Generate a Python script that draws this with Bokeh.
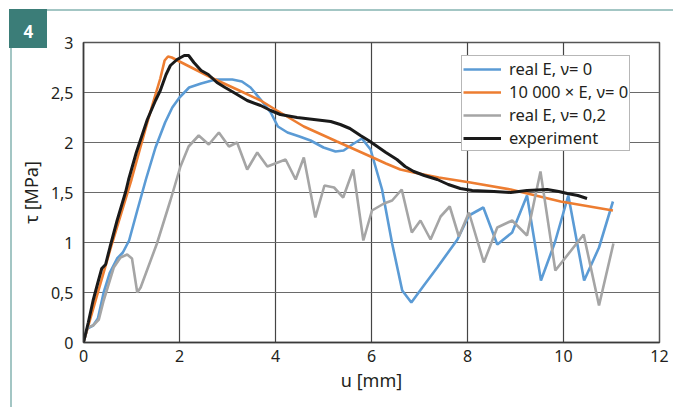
from bokeh.plotting import figure
from bokeh.models import Legend, LegendItem, FixedTicker, Range1d, Title
from bokeh.embed import file_html
from bokeh.resources import INLINE

# ---- data ----
blue_u = [0, 0.08, 0.2, 0.3, 0.42, 0.55, 0.7, 0.82, 0.95, 1.12, 1.3, 1.5, 1.7, 1.85, 2.0, 2.2,
          2.45, 2.75, 3.1, 3.3, 3.48, 3.69, 3.9, 4.05, 4.25, 4.5, 4.73, 5.0, 5.25, 5.42, 5.6,
          5.8, 5.98, 6.22, 6.43, 6.64, 6.83, 7.09, 7.37, 7.79, 8.03, 8.33, 8.62, 8.93, 9.24,
          9.53, 9.82, 10.1, 10.43, 10.74, 11.03]
blue_tau = [0, 0.14, 0.17, 0.24, 0.5, 0.7, 0.84, 0.9, 1.02, 1.32, 1.63, 1.95, 2.2, 2.35, 2.45, 2.55,
            2.59, 2.63, 2.63, 2.61, 2.55, 2.43, 2.3, 2.16, 2.1, 2.06, 2.02, 1.95, 1.91, 1.92, 1.98,
            2.04, 1.93, 1.53, 0.99, 0.52, 0.4, 0.57, 0.75, 1.03, 1.27, 1.35, 0.98, 1.1, 1.47,
            0.62, 1.0, 1.47, 0.62, 0.95, 1.41]

orange_u = [0, 0.3, 0.6, 1.0, 1.3, 1.45, 1.6, 1.69, 1.76, 1.84, 2.0, 2.7, 3.2, 3.69, 4.03, 4.59,
            5.28, 5.98, 6.3, 6.6, 6.88, 7.4, 8.06, 8.9, 9.94, 11.03]
orange_tau = [0, 0.5, 1.0, 1.63, 2.15, 2.4, 2.64, 2.82, 2.86, 2.85, 2.81, 2.64, 2.53, 2.42, 2.32, 2.16,
              2.01, 1.86, 1.79, 1.73, 1.7, 1.65, 1.6, 1.53, 1.41, 1.32]

grey_u = [0, 0.08, 0.2, 0.32, 0.42, 0.63, 0.77, 0.91, 1.01, 1.12, 1.19, 1.53, 1.81, 2.02, 2.19, 2.4,
          2.61, 2.82, 3.03, 3.2, 3.41, 3.62, 3.83, 4.21, 4.42, 4.59, 4.83, 5.02, 5.22, 5.41, 5.62,
          5.83, 6.01, 6.26, 6.43, 6.63, 6.84, 7.02, 7.23, 7.44, 7.63, 7.82, 8.03, 8.34, 8.62,
          8.93, 9.24, 9.52, 9.83, 10.42, 10.74, 11.04]
grey_tau = [0, 0.15, 0.17, 0.23, 0.42, 0.75, 0.85, 0.88, 0.84, 0.5, 0.55, 0.99, 1.42, 1.76, 1.96, 2.07,
            1.98, 2.1, 1.96, 2.0, 1.73, 1.9, 1.76, 1.83, 1.63, 1.85, 1.25, 1.57, 1.55, 1.45, 1.73,
            1.02, 1.32, 1.39, 1.42, 1.53, 1.1, 1.22, 1.03, 1.26, 1.36, 1.06, 1.3, 0.8, 1.15,
            1.22, 1.07, 1.71, 0.72, 1.08, 0.37, 0.99]

black_u = [0, 0.1, 0.2, 0.3, 0.38, 0.46, 0.55, 0.7, 0.88, 0.94, 1.1, 1.33, 1.5, 1.6, 1.72, 1.81,
           1.95, 2.1, 2.19, 2.3, 2.45, 2.6, 2.78, 2.95, 3.13, 3.41, 3.69, 3.9, 4.1, 4.45, 4.8,
           5.15, 5.35, 5.55, 5.77, 5.94, 6.12, 6.3, 6.53, 6.7, 6.88, 7.1, 7.37, 7.6, 7.85, 8.1,
           8.55, 8.9, 9.24, 9.66, 9.9, 10.08, 10.3, 10.49]
black_tau = [0, 0.2, 0.42, 0.6, 0.74, 0.78, 0.95, 1.22, 1.51, 1.63, 1.9, 2.23, 2.42, 2.52, 2.68, 2.77,
             2.83, 2.87, 2.87, 2.8, 2.72, 2.68, 2.6, 2.55, 2.5, 2.42, 2.37, 2.32, 2.28, 2.25, 2.23,
             2.21, 2.18, 2.14, 2.07, 2.02, 1.96, 1.9, 1.83, 1.76, 1.71, 1.67, 1.63, 1.58, 1.54, 1.52,
             1.51, 1.5, 1.52, 1.53, 1.51, 1.49, 1.47, 1.44]

x_ticks = [0, 2, 4, 6, 8, 10, 12]
x_tick_labels = ["0", "2", "4", "6", "8", "10", "12"]
y_ticks = [0, 0.5, 1, 1.5, 2, 2.5, 3]
y_tick_labels = ["0", "0,5", "1", "1,5", "2", "2,5", "3"]

series_labels = ["real E, ν= 0", "10 000 × E, ν= 0", "real E, ν= 0,2", "experiment"]
x_title = "u [mm]"
y_title = "τ [MPa]"
badge_text = "4"

FONT = "Noto Sans"
TXT = "#231f20"
TEAL = "#3b7d78"
LIGHT = "#a3c6c4"

FL, FR, FT, FB = 83, 659, 42, 342  # frame edges in page pixels
W, H = 673, 407

# decorative frame lines and badge box drawn as the page background behind the transparent canvas
deco = ", ".join([
    f"linear-gradient({TEAL}, {TEAL}) 9px 9px / 38px 39px no-repeat",
    f"linear-gradient({LIGHT}, {LIGHT}) 47px 9px / 626px 2px no-repeat",
    f"linear-gradient({LIGHT}, {LIGHT}) 9.5px 47px / 2px 360px no-repeat",
])

p = figure(width=W, height=H, output_backend="svg", toolbar_location=None,
           x_range=Range1d(0, 12), y_range=Range1d(0, 3),
           min_border_left=FL, min_border_right=W - FR, min_border_top=FT, min_border_bottom=H - FB,
           styles={"background": deco})
p.background_fill_color = "white"
p.border_fill_alpha = 0
p.outline_line_color = "#555555"
p.outline_line_width = 1.5

r_blue = p.line(blue_u, blue_tau, line_color="#5b9bd5", line_width=2.6)
r_orange = p.line(orange_u, orange_tau, line_color="#ed7d31", line_width=2.6)
r_grey = p.line(grey_u, grey_tau, line_color="#a5a5a5", line_width=2.6)
r_black = p.line(black_u, black_tau, line_color="#1a1a1a", line_width=3)

for ax, ticks, labels in ((p.xaxis, x_ticks, x_tick_labels), (p.yaxis, y_ticks, y_tick_labels)):
    ax.ticker = FixedTicker(ticks=ticks)
    ax.major_label_overrides = {t: l for t, l in zip(ticks, labels)}
    ax.axis_line_color = "#3a3a3a"
    ax.axis_line_width = 1.5
    ax.major_tick_line_color = None
    ax.minor_tick_line_color = None
    ax.major_label_text_font = FONT
    ax.major_label_text_font_size = "16px"
    ax.major_label_text_color = TXT
    ax.axis_label_text_font = FONT
    ax.axis_label_text_font_size = "18px"
    ax.axis_label_text_font_style = "normal"
    ax.axis_label_text_color = TXT

p.xaxis.axis_label = x_title
p.yaxis.axis_label = y_title
p.xaxis.major_label_standoff = 1
p.yaxis.major_label_standoff = 4
p.xaxis.axis_label_standoff = 3
p.yaxis.axis_label_standoff = 5

p.xgrid.grid_line_color = "#454545"
p.ygrid.grid_line_color = "#6a6a6a"
p.xgrid.grid_line_width = 1.2
p.ygrid.grid_line_width = 1.2

legend = Legend(items=[
    LegendItem(label=series_labels[0], renderers=[r_blue]),
    LegendItem(label=series_labels[1], renderers=[r_orange]),
    LegendItem(label=series_labels[2], renderers=[r_grey]),
    LegendItem(label=series_labels[3], renderers=[r_black]),
], location=(461 - FL, FB - 151))
legend.border_line_color = "#6f6f6f"
legend.border_line_width = 1
legend.background_fill_alpha = 1
legend.padding = 1
legend.spacing = 0
legend.margin = 0
legend.glyph_width = 38
legend.glyph_height = 18
legend.label_height = 18
legend.label_standoff = 8
legend.label_text_font = FONT
legend.label_text_font_size = "16.5px"
legend.label_text_color = TXT
p.add_layout(legend)

# badge number as a title in the top panel
badge = Title(text=badge_text, align="left", offset=-60, standoff=10,
              text_color="white", text_font=FONT, text_font_size="17px", text_font_style="bold")
p.add_layout(badge, "above")

open("out.html", "w").write(file_html(p, INLINE))
